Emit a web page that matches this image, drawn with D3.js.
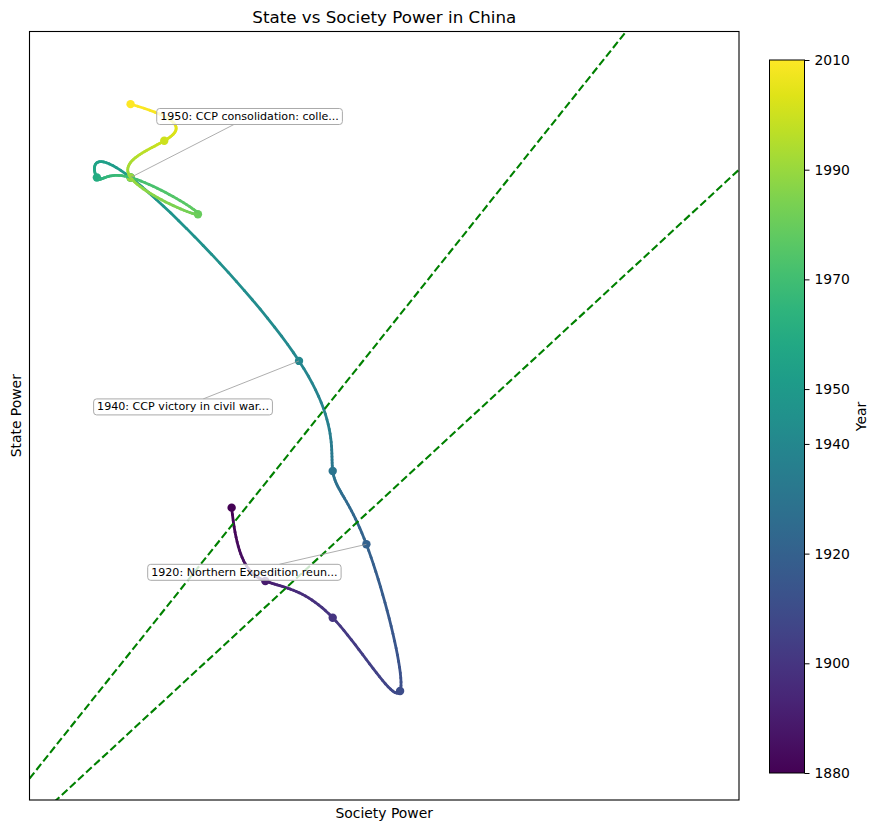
<html>
  <head>
    <script src="https://d3js.org/d3.v7.min.js"></script>
    <style>
      body { margin: 0; background: #fff; }
      text { font-family: "DejaVu Sans", sans-serif; fill: black; }
      .title { font-size: 16.7px; text-anchor: middle; }
      .axis-label { font-size: 13.9px; text-anchor: middle; }
      .cbar-tick text { font-size: 13.9px; }
      .note { font-size: 11.1px; }
    </style>
  </head>
  <body>
    <svg id="chart" width="879" height="831"></svg>
    <script>
      // data (society / state on the chart's own units)
      const years   = [1880, 1890, 1900, 1910, 1920, 1930, 1940, 1950, 1960, 1970, 1980, 1990, 2000, 2010];
      const society = [4, 5, 7, 9, 8, 7, 6, 1, 0, 1, 3, 1, 2, 1];
      const state   = [5, 3, 2, 0, 4, 6, 9, 14, 14, 14, 13, 14, 15, 16];

      const cbarTicks = [1880, 1900, 1920, 1940, 1950, 1970, 1990, 2010];

      // reference lines y = slope * x + intercept
      const refSlopes = [1.15, 0.848];
      const refIntercepts = [-0.086, -1.95];

      const noteYears = [1950, 1940, 1920];
      const noteTexts = ["1950: CCP consolidation: colle...", "1940: CCP victory in civil war...", "1920: Northern Expedition reun..."];
      // label centre offsets from the point, in px
      const noteOffsets = [[119, -61], [-116, 46], [-122, 28]];

      const svg = d3.select("svg#chart");
      const plot = {left: 29.5, right: 739, top: 31.5, bottom: 800};

      const x = d3.scaleLinear().domain([-2, 19.06]).range([plot.left, plot.right]);
      const y = d3.scaleLinear().domain([-2.97, 17.98]).range([plot.bottom, plot.top]);
      const color = d3.scaleSequential(d3.interpolateViridis).domain(d3.extent(years));

      svg.append("clipPath").attr("id", "clip")
        .append("rect")
        .attr("x", plot.left).attr("y", plot.top)
        .attr("width", plot.right - plot.left).attr("height", plot.bottom - plot.top);

      // not-a-knot cubic spline through (t, v)
      function spline(t, v) {
        const n = t.length;
        const h = d3.range(n - 1).map(i => t[i + 1] - t[i]);
        const A = d3.range(n).map(() => new Array(n).fill(0));
        const b = new Array(n).fill(0);
        A[0][0] = h[1]; A[0][1] = -(h[0] + h[1]); A[0][2] = h[0];
        for (let i = 1; i < n - 1; i++) {
          A[i][i - 1] = h[i - 1];
          A[i][i] = 2 * (h[i - 1] + h[i]);
          A[i][i + 1] = h[i];
          b[i] = 6 * ((v[i + 1] - v[i]) / h[i] - (v[i] - v[i - 1]) / h[i - 1]);
        }
        A[n - 1][n - 3] = h[n - 2]; A[n - 1][n - 2] = -(h[n - 3] + h[n - 2]); A[n - 1][n - 1] = h[n - 3];
        // gaussian elimination
        for (let c = 0; c < n; c++) {
          let p = c;
          for (let r = c + 1; r < n; r++) if (Math.abs(A[r][c]) > Math.abs(A[p][c])) p = r;
          [A[c], A[p]] = [A[p], A[c]]; [b[c], b[p]] = [b[p], b[c]];
          for (let r = c + 1; r < n; r++) {
            const f = A[r][c] / A[c][c];
            for (let k = c; k < n; k++) A[r][k] -= f * A[c][k];
            b[r] -= f * b[c];
          }
        }
        const M = new Array(n).fill(0);
        for (let r = n - 1; r >= 0; r--) {
          let s = b[r];
          for (let k = r + 1; k < n; k++) s -= A[r][k] * M[k];
          M[r] = s / A[r][r];
        }
        return tt => {
          let i = 0;
          while (i < n - 2 && tt > t[i + 1]) i++;
          const hi = h[i], a = t[i + 1] - tt, bb = tt - t[i];
          return M[i] * a * a * a / (6 * hi) + M[i + 1] * bb * bb * bb / (6 * hi)
            + (v[i] / hi - M[i] * hi / 6) * a + (v[i + 1] / hi - M[i + 1] * hi / 6) * bb;
        };
      }

      const sx = spline(years, society);
      const sy = spline(years, state);
      const ts = d3.range(300).map(i => years[0] + (years[years.length - 1] - years[0]) * i / 299);
      const smooth = ts.map(t => ({t: t, sx: sx(t), sy: sy(t)}));
      const segs = d3.range(smooth.length - 1).map(i => [smooth[i], smooth[i + 1]]);

      const g = svg.append("g").attr("clip-path", "url(#clip)");

      // markers
      g.selectAll("circle.pt")
        .data(years)
        .join("circle")
        .attr("class", "pt")
        .attr("cx", (d, i) => x(society[i]))
        .attr("cy", (d, i) => y(state[i]))
        .attr("r", 4.2)
        .attr("fill", d => color(d));

      // coloured trajectory
      g.selectAll("line.seg")
        .data(segs)
        .join("line")
        .attr("class", "seg")
        .attr("x1", d => x(d[0].sx)).attr("y1", d => y(d[0].sy))
        .attr("x2", d => x(d[1].sx)).attr("y2", d => y(d[1].sy))
        .attr("stroke", d => color((d[0].t + d[1].t) / 2))
        .attr("stroke-width", 2.8)
        .attr("stroke-linecap", "round");

      // dashed reference lines
      const xd = x.domain();
      g.selectAll("line.ref")
        .data(refSlopes)
        .join("line")
        .attr("class", "ref")
        .attr("x1", x(xd[0])).attr("y1", (d, i) => y(d * xd[0] + refIntercepts[i]))
        .attr("x2", x(xd[1])).attr("y2", (d, i) => y(d * xd[1] + refIntercepts[i]))
        .attr("stroke", "#008000")
        .attr("stroke-width", 2.1)
        .attr("stroke-dasharray", "7.7,3.3");

      // annotations
      noteYears.forEach((yr, k) => {
        const i = years.indexOf(yr);
        const px = x(society[i]), py = y(state[i]);
        const cx = px + noteOffsets[k][0], cy = py + noteOffsets[k][1];
        const ng = svg.append("g");
        const line = ng.append("line").attr("stroke", "#999").attr("stroke-width", 0.8);
        const rect = ng.append("rect");
        const txt = ng.append("text").attr("class", "note")
          .attr("x", cx).attr("y", cy)
          .attr("text-anchor", "middle").attr("dominant-baseline", "central")
          .text(noteTexts[k]);
        const w = txt.node().getComputedTextLength() + 7, hgt = 16;
        rect.attr("x", cx - w / 2).attr("y", cy - hgt / 2)
          .attr("width", w).attr("height", hgt)
          .attr("rx", 3).attr("fill", "white").attr("fill-opacity", 0.8)
          .attr("stroke", "#aaa").attr("stroke-width", 1);
        // clip leader line at box edge
        const dx = px - cx, dy = py - cy;
        const s = Math.min(Math.abs((w / 2) / dx), Math.abs((hgt / 2) / dy));
        line.attr("x1", cx + dx * s).attr("y1", cy + dy * s).attr("x2", px).attr("y2", py);
      });

      // frame
      svg.append("rect")
        .attr("x", plot.left).attr("y", plot.top)
        .attr("width", plot.right - plot.left).attr("height", plot.bottom - plot.top)
        .attr("fill", "none").attr("stroke", "black").attr("stroke-width", 1.1);

      svg.append("text").attr("class", "title").attr("x", (plot.left + plot.right) / 2).attr("y", 23).text("State vs Society Power in China");
      svg.append("text").attr("class", "axis-label").attr("x", (plot.left + plot.right) / 2).attr("y", 818).text("Society Power");
      svg.append("text").attr("class", "axis-label")
        .attr("transform", `translate(21,${(plot.top + plot.bottom) / 2}) rotate(-90)`)
        .text("State Power");

      // colorbar
      const cb = {x: 769.5, w: 35, top: 60, bottom: 773};
      const cy = d3.scaleLinear().domain(d3.extent(years)).range([cb.bottom, cb.top]);
      const grad = svg.append("defs").append("linearGradient")
        .attr("id", "vir").attr("x1", 0).attr("y1", 1).attr("x2", 0).attr("y2", 0);
      grad.selectAll("stop")
        .data(d3.range(0, 1.0001, 0.05))
        .join("stop")
        .attr("offset", d => d)
        .attr("stop-color", d => d3.interpolateViridis(d));
      svg.append("rect")
        .attr("x", cb.x).attr("y", cb.top).attr("width", cb.w).attr("height", cb.bottom - cb.top)
        .attr("fill", "url(#vir)").attr("stroke", "black").attr("stroke-width", 1);
      svg.append("g")
        .attr("class", "cbar-tick")
        .attr("transform", `translate(${cb.x + cb.w},0)`)
        .call(d3.axisRight(cy).tickValues(cbarTicks).tickFormat(d3.format("d")).tickSize(5).tickPadding(5))
        .call(a => a.select(".domain").remove())
        .call(a => a.selectAll("text").style("font-family", "DejaVu Sans").style("font-size", "13.9px"));
      svg.append("text").attr("class", "axis-label")
        .attr("transform", `translate(866,${(cb.top + cb.bottom) / 2}) rotate(-90)`)
        .text("Year");
    </script>
  </body>
</html>
